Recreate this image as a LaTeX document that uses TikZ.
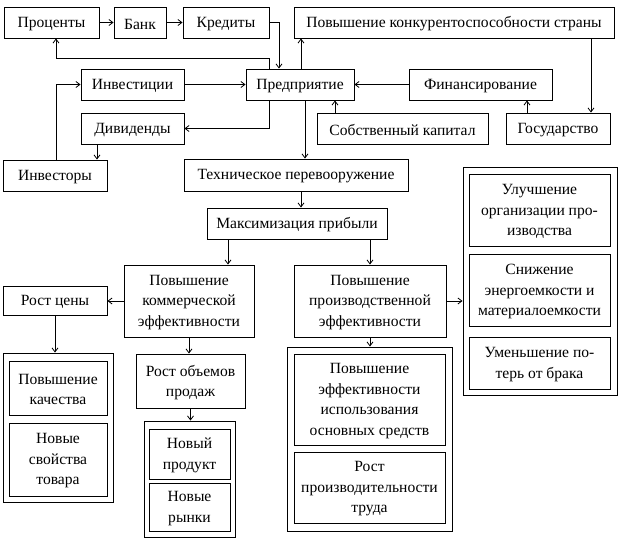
\documentclass[tikz,border=0pt]{standalone}
\usepackage{fontspec}
\setmainfont{Liberation Serif}
\usetikzlibrary{arrows.meta}
\tikzset{
  box/.style={draw=black, line width=0.9pt, fill=white, inner sep=0pt},
  grp/.style={draw=black, line width=0.9pt, fill=white, inner sep=0pt},
  txt/.style={inner sep=0pt, align=center, font=\fontsize{15.6}{20.5}\selectfont},
  arr/.style={draw=black, line width=0.8pt, -{Straight Barb[length=4pt,width=6pt]}}
}
\newcommand\bx[7][box]{\node[#1, minimum width={(#5-#3)*1pt}, minimum height={(#6-#4)*1pt}] (#2) at ({(#3+#5)/2},{(#4+#6)/2}) {};
  \node[txt, yshift=-1.5pt] (#2-t) at (#2.center) {#7};}
\begin{document}
\begin{tikzpicture}[x=1pt,y=-1pt]
\useasboundingbox[fill=white] (0,0) rectangle (622,539);
% top row
\bx{proc}{4}{7}{99}{38}{Проценты}
\bx{bank}{114}{7}{166}{38}{Банк}
\bx{kred}{183}{7}{269}{38}{Кредиты}
\bx{konk}{294}{7}{614}{38}{Повышение конкурентоспособности страны}
% second row
\bx{inv}{81}{69}{184}{100}{Инвестиции}
\bx{pred}{246}{69}{354}{100}{Предприятие}
\bx{fin}{409}{69}{552}{100}{Финансирование}
\bx{div}{81}{113}{184}{144}{Дивиденды}
\bx{sob}{317}{113}{488}{144}{Собственный капитал}
\bx{gos}{506}{113}{610}{144}{Государство}
\bx{invr}{3}{160}{107}{191}{Инвесторы}
\bx{tech}{184}{159}{408}{191}{Техническое перевооружение}
\bx{max}{207}{208}{387}{239}{Максимизация прибыли}
\bx{komm}{124}{265}{254}{337}{Повышение\\коммерческой\\эффективности}
\bx{proiz}{294}{265}{446}{337}{Повышение\\производственной\\эффективности}
\bx{rc}{3}{286}{107}{315}{Рост цены}
\bx{rob}{136}{354}{245}{408}{Рост объемов\\продаж}
% groups
\bx[grp]{grpR}{463}{167}{617}{395}{}
\bx{r1}{469}{174}{610}{246}{Улучшение\\организации про-\\изводства}
\bx{r2}{469}{254}{610}{326}{Снижение\\энергоемкости и\\материалоемкости}
\bx{r3}{469}{337}{610}{389}{Уменьшение по-\\терь от брака}
\bx[grp]{grpL}{3}{353}{113}{502}{}
\bx{l1}{9}{361}{107}{415}{Повышение\\качества}
\bx{l2}{9}{423}{107}{496}{Новые\\свойства\\товара}
\bx[grp]{grpM}{144}{421}{235}{537}{}
\bx{m1}{149}{429}{230}{479}{Новый\\продукт}
\bx{m2}{149}{483}{230}{531}{Новые\\рынки}
\bx[grp]{grpP}{287}{347}{452}{531}{}
\bx{p1}{294}{354}{445}{445}{Повышение\\эффективности\\использования\\основных средств}
\bx{p2}{294}{452}{445}{523}{Рост\\производительности\\труда}
% connectors
\draw[arr] (proc.east) -- (bank.west);
\draw[arr] (bank.east) -- (kred.west);
\draw[arr] (kred.east) -| ([xshift=-21pt]pred.north);
\draw[arr] ([xshift=-31pt]pred.north) -- ++(0,-10) -| ([xshift=4.5pt]proc.south);
\draw[arr] ([xshift=1pt]pred.north) -- ([xshift=1pt]pred.north |- konk.south);
\draw[arr] ([xshift=137pt]konk.south) -- ([xshift=137pt]konk.south |- gos.north);
\draw[arr] (fin.west) -- (pred.east);
\draw[arr] ([xshift=-31pt]gos.north) -- ([xshift=-31pt]gos.north |- fin.south);
\draw[arr] ([xshift=-67.5pt]sob.north) -- ([xshift=-67.5pt]sob.north |- pred.south);
\draw[arr] (inv.east) -- (pred.west);
\draw[arr] ([xshift=1pt]invr.north) |- (inv.west);
\draw[arr] ([xshift=-31pt]pred.south) |- (div.east);
\draw[arr] ([xshift=-35.5pt]div.south) -- ([xshift=-35.5pt]div.south |- invr.north);
\draw[arr] ([xshift=5pt]pred.south) -- ([xshift=5pt]pred.south |- tech.north);
\draw[arr] ([xshift=5pt]tech.south) -- ([xshift=5pt]tech.south |- max.north);
\draw[arr] ([xshift=-69pt]max.south) -- ([xshift=-69pt]max.south |- komm.north);
\draw[arr] (proiz.north |- max.south) -- (proiz.north);
\draw[arr] (komm.west) -- (komm.west -| rc.east);
\draw[arr] (rc.south) -- (rc.south |- grpL.north);
\draw[arr] (komm.south) -- (komm.south |- rob.north);
\draw[arr] (rob.south) -- (rob.south |- grpM.north);
\draw[arr] (proiz.east) -- (proiz.east -| grpR.west);
\draw[arr] (proiz.south) -- (proiz.south |- grpP.north);
\end{tikzpicture}
\end{document}
